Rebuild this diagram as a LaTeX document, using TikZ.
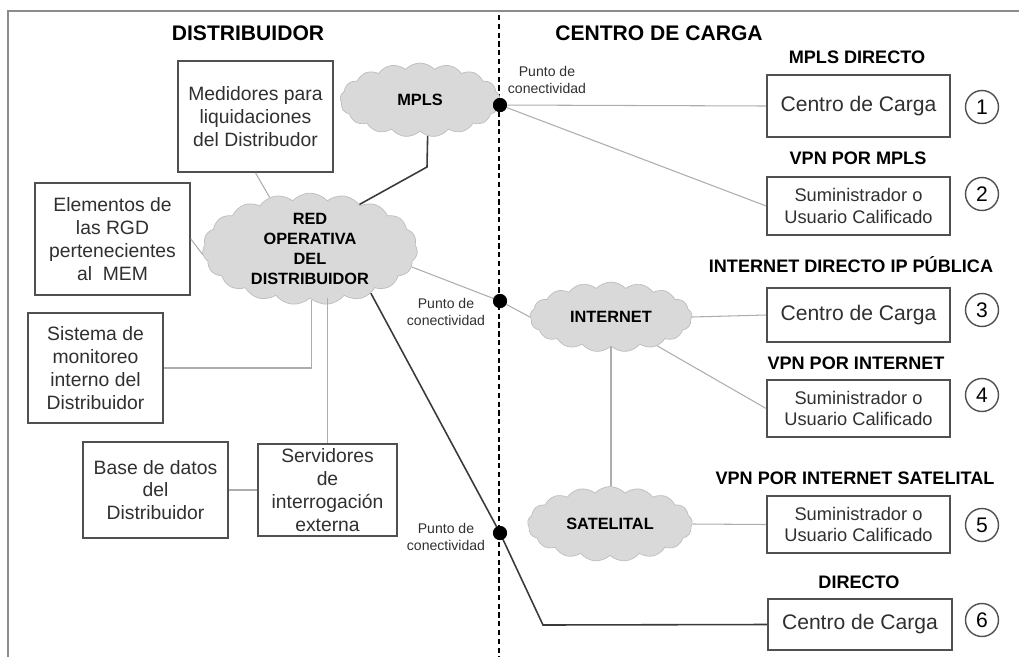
\documentclass[tikz,border=0pt]{standalone}
\usepackage{fontspec}
\setmainfont{Liberation Sans}
\usetikzlibrary{shapes.symbols}
\definecolor{boxline}{HTML}{505050}
\definecolor{textgray}{HTML}{303030}
\definecolor{linegray}{HTML}{ADADAD}
\definecolor{darkline}{HTML}{3A3A3A}
\definecolor{cloudfill}{HTML}{D9D9D9}
\definecolor{cloudline}{HTML}{BDBDBD}
\definecolor{framegray}{HTML}{8C8C8C}
\begin{document}
\begin{tikzpicture}[x=0.02cm, y=-0.02cm,
    box/.style={draw=boxline, line width=1pt, fill=white, align=center, inner sep=0pt,
        text=textgray, font=\fontsize{11}{13}\selectfont},
    cargabox/.style={box, minimum width=3.66cm, font=\fontsize{12}{14}\selectfont},
    usrbox/.style={box, minimum width=3.66cm, minimum height=1.14cm, font=\fontsize{10.4}{12.4}\selectfont},
    netcloud/.style={cloud, cloud puffs=17, cloud puff arc=95, cloud ignores aspect, draw=cloudline,
        fill=cloudfill, inner sep=0pt, align=center, font=\bfseries\fontsize{9.3}{11.4}\selectfont},
    conpoint/.style={circle, fill=black, inner sep=0pt, minimum size=0.28cm},
    numcircle/.style={circle, draw=boxline, line width=0.8pt, inner sep=0pt, minimum size=0.66cm,
        font=\fontsize{12}{12}\selectfont},
    sidetitle/.style={font=\bfseries\fontsize{12}{14}\selectfont},
    linktitle/.style={font=\bfseries\fontsize{10.3}{12}\selectfont},
    ptlabel/.style={align=center, text=textgray, font=\fontsize{8}{9.5}\selectfont},
    thinlink/.style={draw=linegray, line width=0.6pt},
    thicklink/.style={draw=darkline, line width=0.9pt}]
    \useasboundingbox (0,0) rectangle (1019,657);
    \draw[framegray, line width=1.2pt] (8,657) -- (8,11) -- (1019,11);
    \draw[black, line width=0.7pt, dash pattern=on 3pt off 2pt] (499,15) -- (499,657);

    \node[sidetitle] (tdist) at (248,33) {DISTRIBUIDOR};
    \node[sidetitle] (tcentro) at (659,33) {CENTRO DE CARGA};

    % redes
    \node[netcloud, minimum width=3.2cm, minimum height=1.48cm] (mpls) at (420,100) {MPLS};
    \node[netcloud, cloud puffs=19, minimum width=4.3cm, minimum height=2.16cm] (red) at (310,249)
        {RED\\OPERATIVA\\DEL\\DISTRIBUIDOR};
    \node[netcloud, minimum width=3.24cm, minimum height=1.4cm] (internet) at (611,317) {INTERNET};
    \node[netcloud, minimum width=3.3cm, minimum height=1.5cm] (satelital) at (610,524) {SATELITAL};

    % lado distribuidor
    \node[box, minimum width=3.1cm, minimum height=2.22cm] (medidores) at (255.5,116.5)
        {Medidores para\\liquidaciones\\del Distribudor};
    \node[box, minimum width=3.1cm, minimum height=2.24cm] (elementos) at (112.5,239)
        {Elementos de\\las RGD\\pertenecientes\\al\ \ MEM};
    \node[box, minimum width=2.7cm, minimum height=2.2cm] (sistema) at (95.5,368)
        {Sistema de\\monitoreo\\interno del\\Distribuidor};
    \node[box, minimum width=2.9cm, minimum height=1.92cm] (basedatos) at (155.5,490)
        {Base de datos\\del\\Distribuidor};
    \node[box, minimum width=2.78cm, minimum height=1.84cm] (servidores) at (327.5,490)
        {Servidores\\de\\interrogación\\externa};

    % puntos de conectividad
    \node[conpoint] (p1) at (500,105) {};
    \node[conpoint] (p2) at (500,301) {};
    \node[conpoint] (p3) at (500,533) {};
    \node[ptlabel] (lp1) at (547,80) {Punto de\\conectividad};
    \node[ptlabel] (lp2) at (446,312) {Punto de\\conectividad};
    \node[ptlabel] (lp3) at (446,537) {Punto de\\conectividad};

    % lado centro de carga
    \node[linktitle] (h1) at (857,57) {MPLS DIRECTO};
    \node[cargabox, minimum height=1.24cm] (c1) at (858.5,106) {Centro de Carga};
    \node[numcircle] (n1) at (982,107) {1};
    \node[linktitle] (h2) at (858,158) {VPN POR MPLS};
    \node[usrbox, minimum height=1.16cm] (c2) at (858.5,206) {Suministrador o\\Usuario Calificado};
    \node[numcircle] (n2) at (982,194) {2};
    \node[linktitle] (h3) at (851,265) {INTERNET DIRECTO IP PÚBLICA};
    \node[cargabox, minimum height=1.08cm] (c3) at (858.5,315) {Centro de Carga};
    \node[numcircle] (n3) at (982,310) {3};
    \node[linktitle] (h4) at (856,363) {VPN POR INTERNET};
    \node[usrbox] (c4) at (858.5,408.5) {Suministrador o\\Usuario Calificado};
    \node[numcircle] (n4) at (982,395) {4};
    \node[linktitle] (h5) at (855,478) {VPN POR INTERNET SATELITAL};
    \node[usrbox] (c5) at (858.5,524.5) {Suministrador o\\Usuario Calificado};
    \node[numcircle] (n5) at (982,525) {5};
    \node[linktitle] (h6) at (859,582) {DIRECTO};
    \node[cargabox, minimum width=3.68cm, minimum height=1.02cm] (c6) at (860,624.5) {Centro de Carga};
    \node[numcircle] (n6) at (982,620) {6};

    % enlaces
    \coordinate (mplsbend) at (427,167);
    \coordinate (dirbend) at (543,625);
    \draw[thicklink] (mpls.-78) -- (mplsbend) -- (red.42);
    \draw[thinlink] (medidores.south) -- (red.128);
    \draw[thinlink] (elementos.east) -- (red.183);
    \draw[thinlink] (red.-88) |- (sistema.east);
    \draw[thinlink] (servidores.north) -- (red.south -| servidores.north);
    \draw[thinlink] (basedatos.east) -- (servidores.west);
    \draw[thinlink] (red.-10) -- (p2.center) -- (internet.west);
    \draw[thinlink] (p1.center) -- (c1.west);
    \draw[thinlink] (p1.center) -- (c2.west);
    \draw[thinlink] (internet.east) -- (c3.west);
    \draw[thinlink] (internet.-32) -- (c4.west);
    \draw[thinlink] (internet.south) -- (internet.south |- satelital.north);
    \draw[thinlink] (satelital.east) -- (c5.west);
    \draw[thicklink] (red.-36) -- (p3.center) -- (dirbend) -- (c6.west);
    \node[conpoint] at (p1) {};
    \node[conpoint] at (p2) {};
    \node[conpoint] at (p3) {};
\end{tikzpicture}
\end{document}
